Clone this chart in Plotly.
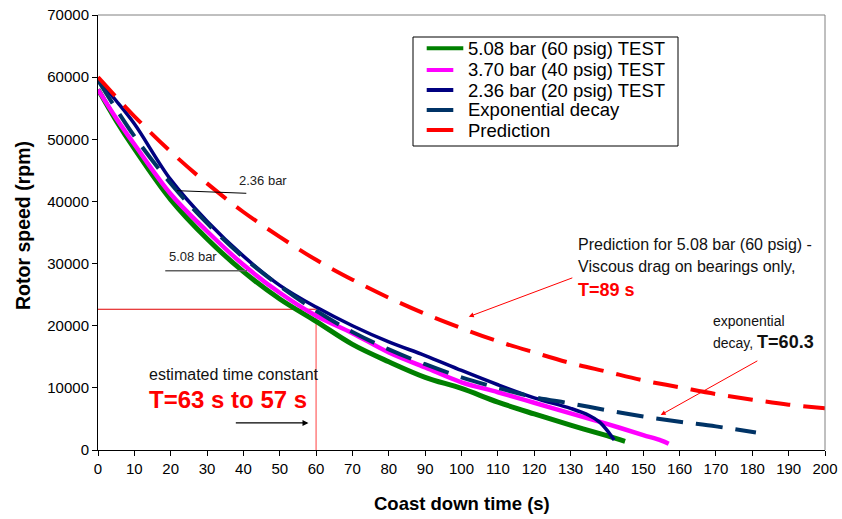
import plotly.graph_objects as go

# ---- data ----
t_508 = [0, 5, 10, 20, 30, 40, 50, 60, 70, 80, 90, 100, 110, 120, 130, 140, 145]
rpm_508 = [58000, 53000, 48500, 40300, 34000, 28700, 24300, 20700, 17000, 14200,
           11700, 9900, 7700, 5800, 4000, 2300, 1400]

t_370 = [0, 5, 10, 20, 30, 40, 50, 60, 70, 80, 90, 100, 110, 120, 130, 140, 150, 155, 157]
rpm_370 = [58000, 53400, 49200, 41200, 35200, 29800, 25300, 21600, 18800, 15700,
           13300, 10900, 9300, 7600, 5900, 4200, 2400, 1500, 1000]

t_236 = [0, 5, 10, 20, 30, 40, 50, 60, 70, 80, 90, 100, 110, 120, 130, 135, 138, 140, 142]
rpm_236 = [59600, 56200, 52500, 43500, 36800, 31200, 26500, 23000, 20000, 17400,
           15200, 12800, 10500, 8400, 6700, 5600, 4500, 3200, 1600]

t_exp = [0, 10, 20, 30, 40, 50, 60, 70, 80, 90, 100, 110, 120, 130, 140, 150, 160, 170, 181]
rpm_exp = [59500, 50500, 42900, 36500, 31000, 26400, 22400, 19000, 16200, 13800,
           11700, 10000, 8500, 7500, 6400, 5400, 4550, 3800, 2800]

t_pred = [0, 10, 20, 30, 40, 50, 60, 70, 80, 90, 100, 110, 120, 130, 140, 150,
          160, 170, 180, 190, 200]
rpm_pred = [60000, 53700, 48000, 42900, 38300, 34300, 30600, 27400, 24500, 21900,
            19600, 17500, 15700, 14000, 12600, 11200, 10100, 9000, 8100, 7300, 6700]

names = ["5.08 bar (60 psig) TEST", "3.70 bar (40 psig) TEST", "2.36 bar (20 psig) TEST",
         "Exponential decay", "Prediction"]
colors = ["#008000", "#ff00ff", "#000080", "#003366", "#ff0000"]

tc_time = 60
tc_speed = 22650

x_ticks = list(range(0, 201, 10))
y_ticks = list(range(0, 70001, 10000))

FONT = "Arial, 'Liberation Sans', sans-serif"

# plot area in pixels (for paper-coordinate conversion of decorations)
W, H = 842, 519
L, R, T, B = 98, 17, 15, 69
PW, PH = W - L - R, H - T - B


def px(xp):
    return (xp - L) / PW


def py(yp):
    return (H - B - yp) / PH


fig = go.Figure()

# estimated time-constant crosshair
fig.add_trace(go.Scatter(x=[0, tc_time], y=[tc_speed, tc_speed], mode="lines",
                         line=dict(color="#e00000", width=1), showlegend=False,
                         hoverinfo="skip"))
fig.add_trace(go.Scatter(x=[tc_time, tc_time], y=[0, tc_speed], mode="lines",
                         line=dict(color="#ff8080", width=1.5), showlegend=False,
                         hoverinfo="skip"))

fig.add_trace(go.Scatter(x=t_508, y=rpm_508, name=names[0], mode="lines",
                         line=dict(color=colors[0], width=5, shape="spline")))
fig.add_trace(go.Scatter(x=t_370, y=rpm_370, name=names[1], mode="lines",
                         line=dict(color=colors[1], width=4.5, shape="spline")))
fig.add_trace(go.Scatter(x=t_236, y=rpm_236, name=names[2], mode="lines",
                         line=dict(color=colors[2], width=3.5, shape="spline")))
fig.add_trace(go.Scatter(x=t_exp, y=rpm_exp, name=names[3], mode="lines",
                         line=dict(color=colors[3], width=4, dash="27px,13px",
                                   shape="spline")))
fig.add_trace(go.Scatter(x=t_pred, y=rpm_pred, name=names[4], mode="lines",
                         line=dict(color=colors[4], width=4, dash="25px,13px",
                                   shape="spline")))

anns = []
# label leader lines
fig.add_shape(type="line", x0=21.7, y0=41730, x1=40.8, y1=41310,
              line=dict(color="black", width=1))
fig.add_shape(type="line", x0=18.5, y0=28850, x1=41.0, y1=28850,
              line=dict(color="#606060", width=1.5))
anns.append(dict(x=38.3, y=43290, text="2.36 bar", xanchor="left", showarrow=False,
                 font=dict(size=13, color="#222")))
anns.append(dict(x=19.1, y=31060, text="5.08 bar", xanchor="left", showarrow=False,
                 font=dict(size=13, color="#222")))

# estimated time constant
anns.append(dict(x=13.6, y=12070, text="estimated time constant", xanchor="left",
                 showarrow=False, font=dict(size=16, color="#111")))
anns.append(dict(x=13.6, y=8050, text="<b>T=63 s to 57 s</b>", xanchor="left",
                 showarrow=False, font=dict(size=24, color="#ff0000")))
anns.append(dict(x=57.9, y=4350, ax=37.5, ay=4350, axref="x", ayref="y", text="",
                 showarrow=True, arrowhead=2, arrowsize=1, arrowwidth=1.2,
                 arrowcolor="black"))

# prediction note
anns.append(dict(x=131.6, y=32990, text="Prediction for 5.08 bar (60 psig) -",
                 xanchor="left", showarrow=False, font=dict(size=16, color="#111")))
anns.append(dict(x=131.6, y=29450, text="Viscous drag on bearings only,",
                 xanchor="left", showarrow=False, font=dict(size=16, color="#111")))
anns.append(dict(x=131.6, y=25750, text="<b>T=89 s</b>", xanchor="left",
                 showarrow=False, font=dict(size=18, color="#ff0000")))
anns.append(dict(x=102, y=21450, ax=130.9, ay=27790, axref="x", ayref="y", text="",
                 showarrow=True, arrowhead=2, arrowsize=1, arrowwidth=1,
                 arrowcolor="#ff0000"))

# exponential decay note
anns.append(dict(x=168.6, y=20810, text="exponential", xanchor="left",
                 showarrow=False, font=dict(size=14, color="#111")))
anns.append(dict(x=168.6, y=17430,
                 text="decay, <b><span style='font-size:18px'>T=60.3</span></b>",
                 xanchor="left", showarrow=False, font=dict(size=14, color="#111")))
anns.append(dict(x=154.8, y=5630, ax=181.8, ay=14480, axref="x", ayref="y", text="",
                 showarrow=True, arrowhead=2, arrowsize=1, arrowwidth=1,
                 arrowcolor="#ff0000"))

# axis titles
anns.append(dict(xref="paper", yref="paper", x=0.5, y=py(503), yanchor="middle",
                 text="<b>Coast down time (s)</b>", showarrow=False,
                 font=dict(size=18.5, color="black")))
anns.append(dict(xref="paper", yref="paper", x=px(23), y=py(226), textangle=-90,
                 xanchor="center", yanchor="middle",
                 text="<b>Rotor speed (rpm)</b>", showarrow=False,
                 font=dict(size=19.5, color="black")))

# legend box (drawn to match the reference's compact spacing)
fig.add_shape(type="rect", xref="paper", yref="paper",
              x0=px(413), y0=py(146), x1=px(678), y1=py(37),
              line=dict(color="black", width=1), fillcolor="white", layer="above")
row_y = [48.3, 70, 90, 110, 130]
line_end = [463.3, 453.3, 453.3, 453.3, 453.3]
for i in range(5):
    fig.add_shape(type="line", xref="paper", yref="paper",
                  x0=px(426.7), x1=px(line_end[i]), y0=py(row_y[i]), y1=py(row_y[i]),
                  line=dict(color=colors[i], width=4), layer="above")
    anns.append(dict(xref="paper", yref="paper", x=px(466), y=py(row_y[i]),
                     xanchor="left", yanchor="middle", text=names[i], showarrow=False,
                     font=dict(size=18.5, color="black")))

# gray frame on top and right
fig.add_shape(type="line", xref="paper", yref="paper", x0=0, y0=1, x1=1, y1=1,
              line=dict(color="#808080", width=1))
fig.add_shape(type="line", xref="paper", yref="paper", x0=1, y0=0, x1=1, y1=1,
              line=dict(color="#808080", width=1))

fig.update_layout(
    width=W, height=H,
    margin=dict(l=L, r=R, t=T, b=B, autoexpand=False),
    paper_bgcolor="white", plot_bgcolor="white",
    font=dict(family=FONT, color="black"),
    annotations=anns,
    showlegend=False,
    xaxis=dict(range=[0, 200], tickvals=x_ticks, showgrid=False, zeroline=False,
               showline=True, linecolor="black", linewidth=1, ticks="outside",
               ticklen=5, tickcolor="black", tickfont=dict(size=15, color="black"),
               automargin=False),
    yaxis=dict(range=[0, 70000], tickvals=y_ticks, tickformat="d", showgrid=False,
               zeroline=False, showline=True, linecolor="black", linewidth=1,
               ticks="outside", ticklen=5, tickcolor="black",
               tickfont=dict(size=15, color="black"), automargin=False),
)

fig.write_html("out.html", config={"displayModeBar": False},
               post_script="document.body.style.margin='0';")
